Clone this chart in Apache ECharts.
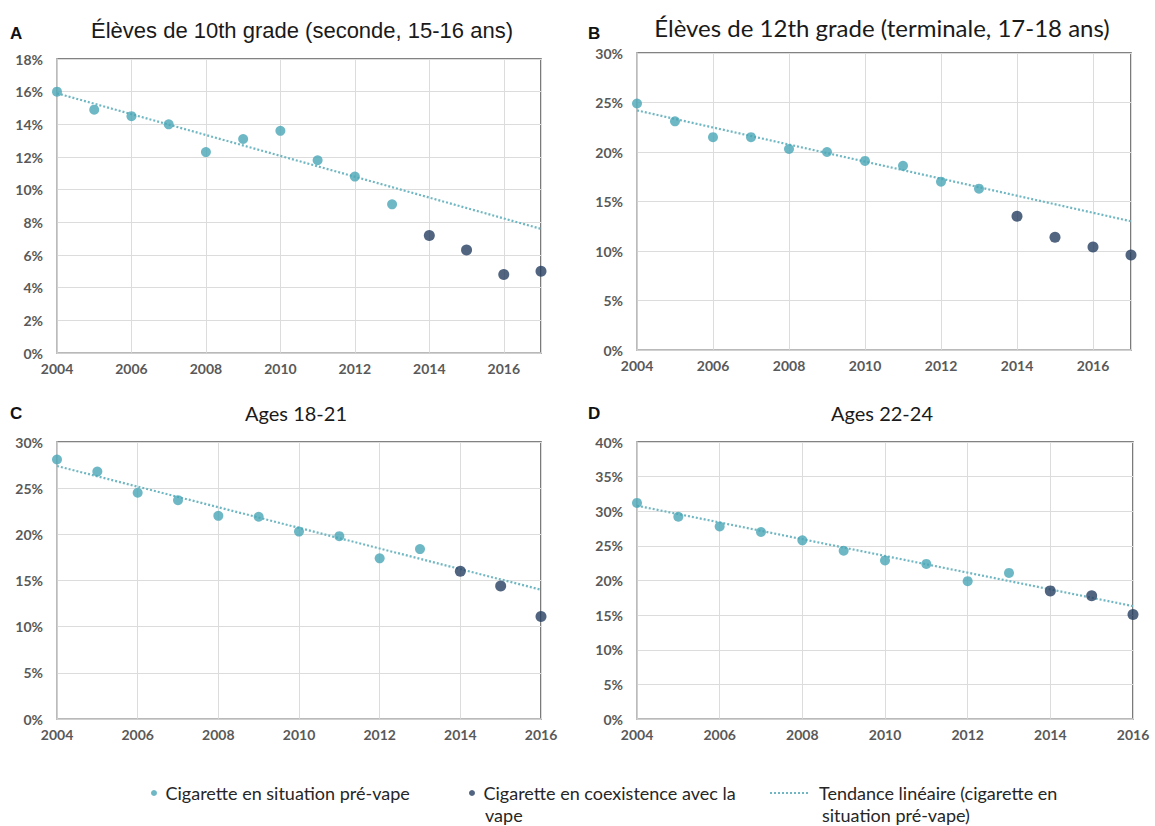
<!DOCTYPE html>
<html>
<head>
<meta charset="utf-8">
<script src="https://cdn.jsdelivr.net/npm/echarts@6/dist/echarts.min.js"></script>
<style>
html,body{margin:0;padding:0;background:#fff;}
#chart{width:1155px;height:826px;}
</style>
</head>
<body>
<div id="chart"></div>
<script>
// ---- Data ----
const yearsPre = [2004, 2005, 2006, 2007, 2008, 2009, 2010, 2011, 2012, 2013];
const yearsVapeAB = [2014, 2015, 2016, 2017];
const yearsVapeCD = [2014, 2015, 2016];
const trendYearsAB = [2004, 2017];
const trendYearsCD = [2004, 2016];

const aPre = [16.0, 14.9, 14.5, 14.0, 12.3, 13.1, 13.6, 11.8, 10.8, 9.1];
const aVape = [7.2, 6.3, 4.8, 5.0];
const aTrend = [15.9, 7.6];

const bPre = [24.9, 23.1, 21.5, 21.5, 20.3, 20.0, 19.1, 18.6, 17.0, 16.3];
const bVape = [13.5, 11.4, 10.4, 9.6];
const bTrend = [24.2, 13.0];

const cPre = [28.1, 26.8, 24.5, 23.7, 22.0, 21.9, 20.3, 19.8, 17.4, 18.4];
const cVape = [16.0, 14.4, 11.1];
const cTrend = [27.4, 14.0];

const dPre = [31.2, 29.2, 27.8, 27.0, 25.8, 24.3, 22.9, 22.4, 19.9, 21.1];
const dVape = [18.5, 17.8, 15.1];
const dTrend = [30.8, 16.3];

const titles = ['Élèves de 10th grade (seconde, 15-16 ans)', 'Élèves de 12th grade (terminale, 17-18 ans)', 'Ages 18-21', 'Ages 22-24'];
const letters = ['A', 'B', 'C', 'D'];
const yMax = [18, 30, 30, 40];
const yInterval = [2, 5, 5, 5];
const xMax = [2017, 2017, 2016, 2016];
const seriesNames = ['Cigarette en situation pré-vape', 'Cigarette en coexistence avec la', 'Tendance linéaire (cigarette en'];
const legendSecondLines = ['', 'vape', 'situation pré-vape)'];

// ---- Build ----
const pair = (xs, ys) => xs.map((x, i) => [x, ys[i]]);
const panels = [
  { pre: pair(yearsPre, aPre), vape: pair(yearsVapeAB, aVape), trend: pair(trendYearsAB, aTrend) },
  { pre: pair(yearsPre, bPre), vape: pair(yearsVapeAB, bVape), trend: pair(trendYearsAB, bTrend) },
  { pre: pair(yearsPre, cPre), vape: pair(yearsVapeCD, cVape), trend: pair(trendYearsCD, cTrend) },
  { pre: pair(yearsPre, dPre), vape: pair(yearsVapeCD, dVape), trend: pair(trendYearsCD, dTrend) }
];

const TEAL = '#4aa6b6';
const NAVY = '#263f62';
const TREND = '#6fb7c2';
const LABEL_FONT = 'Lato, "Open Sans", sans-serif';

const grids = [
  { left: 57, top: 59, width: 484, height: 294 },
  { left: 637, top: 53, width: 494, height: 297 },
  { left: 57, top: 442, width: 484, height: 277 },
  { left: 637, top: 442, width: 496, height: 277 }
].map(g => Object.assign(g, { show: true, borderColor: '#5a5a5a', borderWidth: 1.6, backgroundColor: '#fff' }));

const xAxes = [], yAxes = [], series = [];
for (let i = 0; i < 4; i++) {
  xAxes.push({
    type: 'value', gridIndex: i, min: 2004, max: xMax[i], interval: 2,
    axisLine: { show: true, lineStyle: { color: '#cccccc', width: 1.6 } },
    axisTick: { show: false },
    splitLine: { show: true, lineStyle: { color: '#dcdcdc', width: 1 } },
    axisLabel: { color: '#595959', fontFamily: LABEL_FONT, fontWeight: 'bold', fontSize: 14, margin: 8, showMaxLabel: xMax[i] === 2016, formatter: v => String(v) }
  });
  yAxes.push({
    type: 'value', gridIndex: i, min: 0, max: yMax[i], interval: yInterval[i],
    axisLine: { show: true, lineStyle: { color: '#cccccc', width: 1.6 } },
    axisTick: { show: false },
    splitLine: { show: true, lineStyle: { color: '#dcdcdc', width: 1 } },
    axisLabel: { color: '#595959', fontFamily: LABEL_FONT, fontWeight: 'bold', fontSize: 14, margin: 14, formatter: '{value}%' }
  });
  const p = panels[i];
  series.push({
    name: seriesNames[2], type: 'line', xAxisIndex: i, yAxisIndex: i, data: p.trend,
    symbol: 'none', silent: true, itemStyle: { color: TREND },
    lineStyle: { color: TREND, width: 2.2, type: [2, 2] }, z: 2
  });
  series.push({
    name: seriesNames[0], type: 'scatter', xAxisIndex: i, yAxisIndex: i, data: p.pre,
    symbol: 'circle', symbolSize: 10, itemStyle: { color: TEAL }, z: 3
  });
  series.push({
    name: seriesNames[1], type: 'scatter', xAxisIndex: i, yAxisIndex: i, data: p.vape,
    symbol: 'circle', symbolSize: 11, itemStyle: { color: NAVY }, z: 3
  });
}

const legendText = { color: '#262626', fontFamily: LABEL_FONT, fontSize: 18, lineHeight: 20 };
const dottedIcon = 'path://M0,0h2v2h-2zM4,0h2v2h-2zM8,0h2v2h-2zM12,0h2v2h-2zM16,0h2v2h-2zM20,0h2v2h-2zM24,0h2v2h-2zM28,0h2v2h-2zM32,0h2v2h-2zM36,0h2v2h-2z';
const legends = [
  { data: [seriesNames[0]], left: 146, top: 778, icon: 'circle', itemWidth: 13, itemHeight: 6, itemGap: 0,
    textStyle: legendText, selectedMode: false },
  { data: [seriesNames[1]], left: 464, top: 778, icon: 'circle', itemWidth: 13, itemHeight: 6, itemGap: 0,
    textStyle: legendText, selectedMode: false },
  { data: [{ name: seriesNames[2], icon: dottedIcon }], left: 765, top: 778, itemWidth: 38, itemHeight: 2, itemGap: 0,
    textStyle: Object.assign({}, legendText, { padding: [0, 0, 0, 6] }), selectedMode: false }
];

const titleFonts = [
  { font: '22px "Liberation Sans", Arial, sans-serif', x: 302, y: 30 },
  { font: '24px Lato, "Open Sans", sans-serif', x: 882, y: 27 },
  { font: '20px Lato, "Open Sans", sans-serif', x: 296, y: 413 },
  { font: '20px Lato, "Open Sans", sans-serif', x: 882, y: 413 }
];
const letterPos = [[10, 33], [588, 33], [10, 413], [588, 413]];
const graphics = [];
for (let i = 0; i < 4; i++) {
  graphics.push({ type: 'text', x: titleFonts[i].x, y: titleFonts[i].y,
    style: { text: titles[i], font: titleFonts[i].font, fill: '#1a1a1a', align: 'center', verticalAlign: 'middle' } });
  graphics.push({ type: 'text', x: letterPos[i][0], y: letterPos[i][1],
    style: { text: letters[i], font: 'bold 17px "Liberation Sans", Arial, sans-serif', fill: '#111', align: 'left', verticalAlign: 'middle' } });
}
const secondLineX = [0, 485, 822];
for (let k = 1; k < 3; k++) {
  graphics.push({ type: 'text', x: secondLineX[k], y: 815,
    style: { text: legendSecondLines[k], font: '18px Lato, "Open Sans", sans-serif', fill: '#262626', align: 'left', verticalAlign: 'middle' } });
}

const chart = echarts.init(document.getElementById('chart'), null, { renderer: 'svg' });
chart.setOption({
  animation: false,
  backgroundColor: '#fff',
  grid: grids,
  xAxis: xAxes,
  yAxis: yAxes,
  series: series,
  legend: legends,
  graphic: graphics
});
</script>
</body>
</html>
